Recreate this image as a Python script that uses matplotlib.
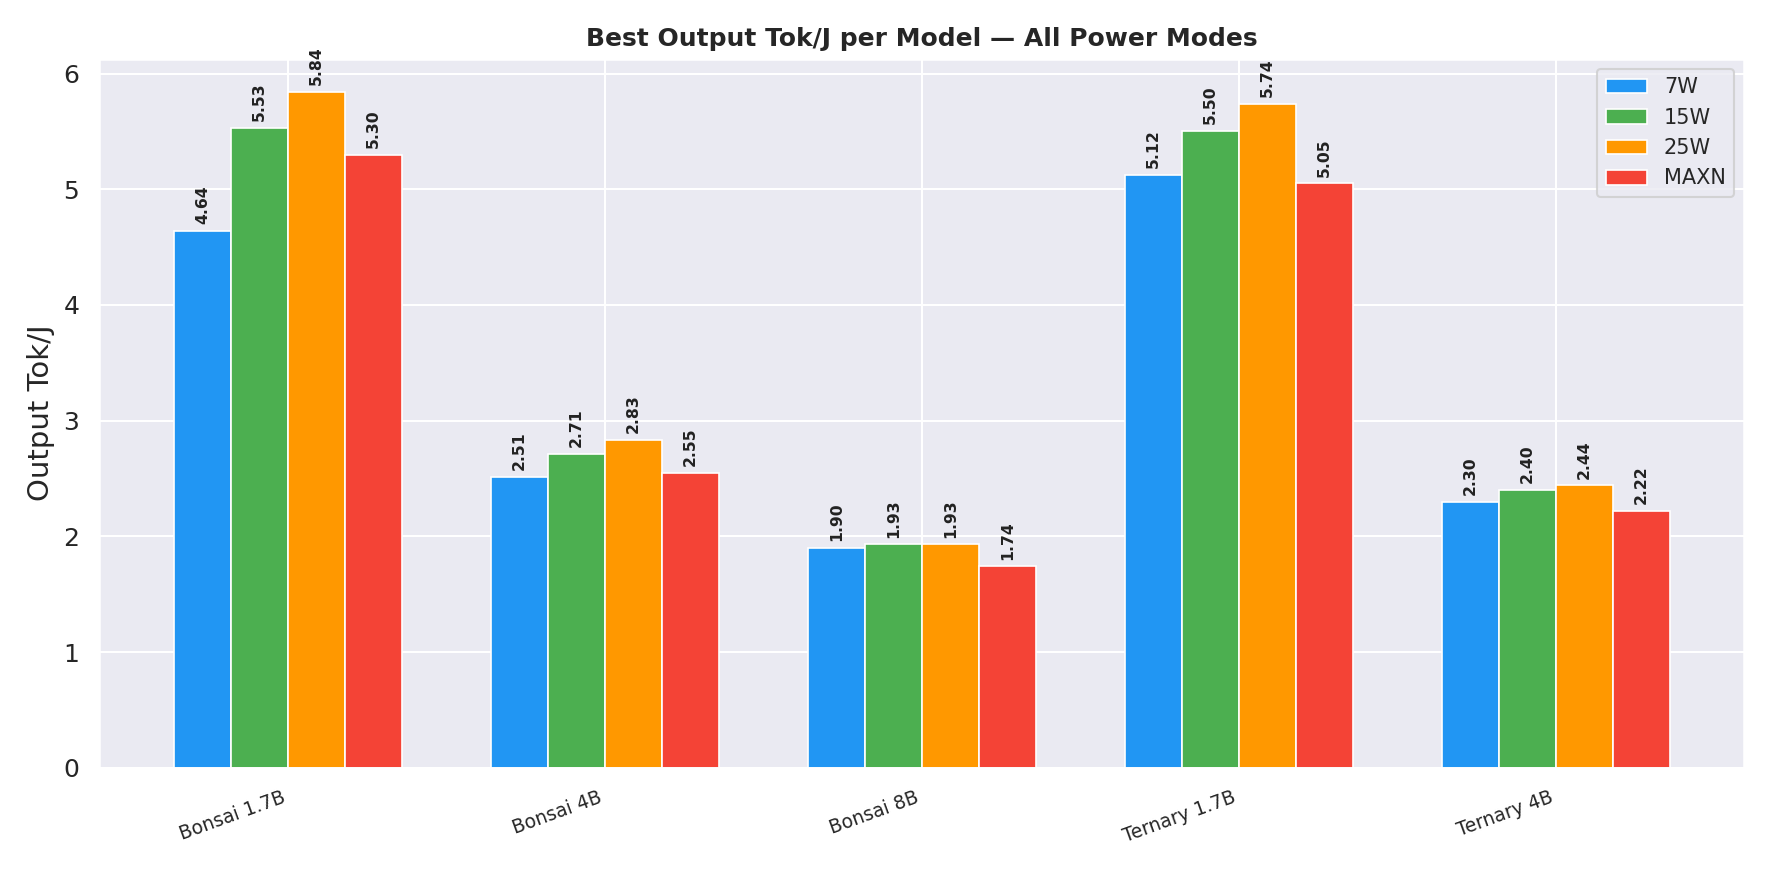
import matplotlib
matplotlib.use("Agg")
import matplotlib.pyplot as plt
import seaborn as sns
import numpy as np

sns.set_theme(style="darkgrid")

models = ["Bonsai 1.7B", "Bonsai 4B", "Bonsai 8B", "Ternary 1.7B", "Ternary 4B"]
modes = ["7W", "15W", "25W", "MAXN"]
v7 = [4.64, 2.51, 1.90, 5.12, 2.30]
v15 = [5.53, 2.71, 1.93, 5.50, 2.40]
v25 = [5.84, 2.83, 1.93, 5.74, 2.44]
vmaxn = [5.30, 2.55, 1.74, 5.05, 2.22]
colors = ["#2196F3", "#4CAF50", "#FF9800", "#F44336"]

fig, ax = plt.subplots(figsize=(11.81, 5.82), dpi=150)
x = np.arange(len(models))
w = 0.18
for i, (vals, lab, c) in enumerate(zip([v7, v15, v25, vmaxn], modes, colors)):
    xs = x + (i - 1.5) * w
    bars = ax.bar(xs, vals, w, label=lab, color=c, edgecolor="white", linewidth=0.8)
    for b, v in zip(bars, vals):
        ax.text(b.get_x() + b.get_width() / 2, v + 0.06, f"{v:.2f}", rotation=90,
                ha="center", va="bottom", fontsize=7.5, fontweight="bold", color="#222222")
ax.set_xticks(x)
ax.set_xticklabels(models, rotation=20, ha="right", fontsize=9)
ax.tick_params(axis="y", labelsize=12)
ax.set_ylabel("Output Tok/J", fontsize=14)
ax.set_ylim(0, 6.13)
ax.set_title("Best Output Tok/J per Model — All Power Modes", fontsize=12, fontweight="bold")
ax.legend(loc="upper right", fontsize=10)
fig.tight_layout()
fig.savefig("out.png", dpi=150)
